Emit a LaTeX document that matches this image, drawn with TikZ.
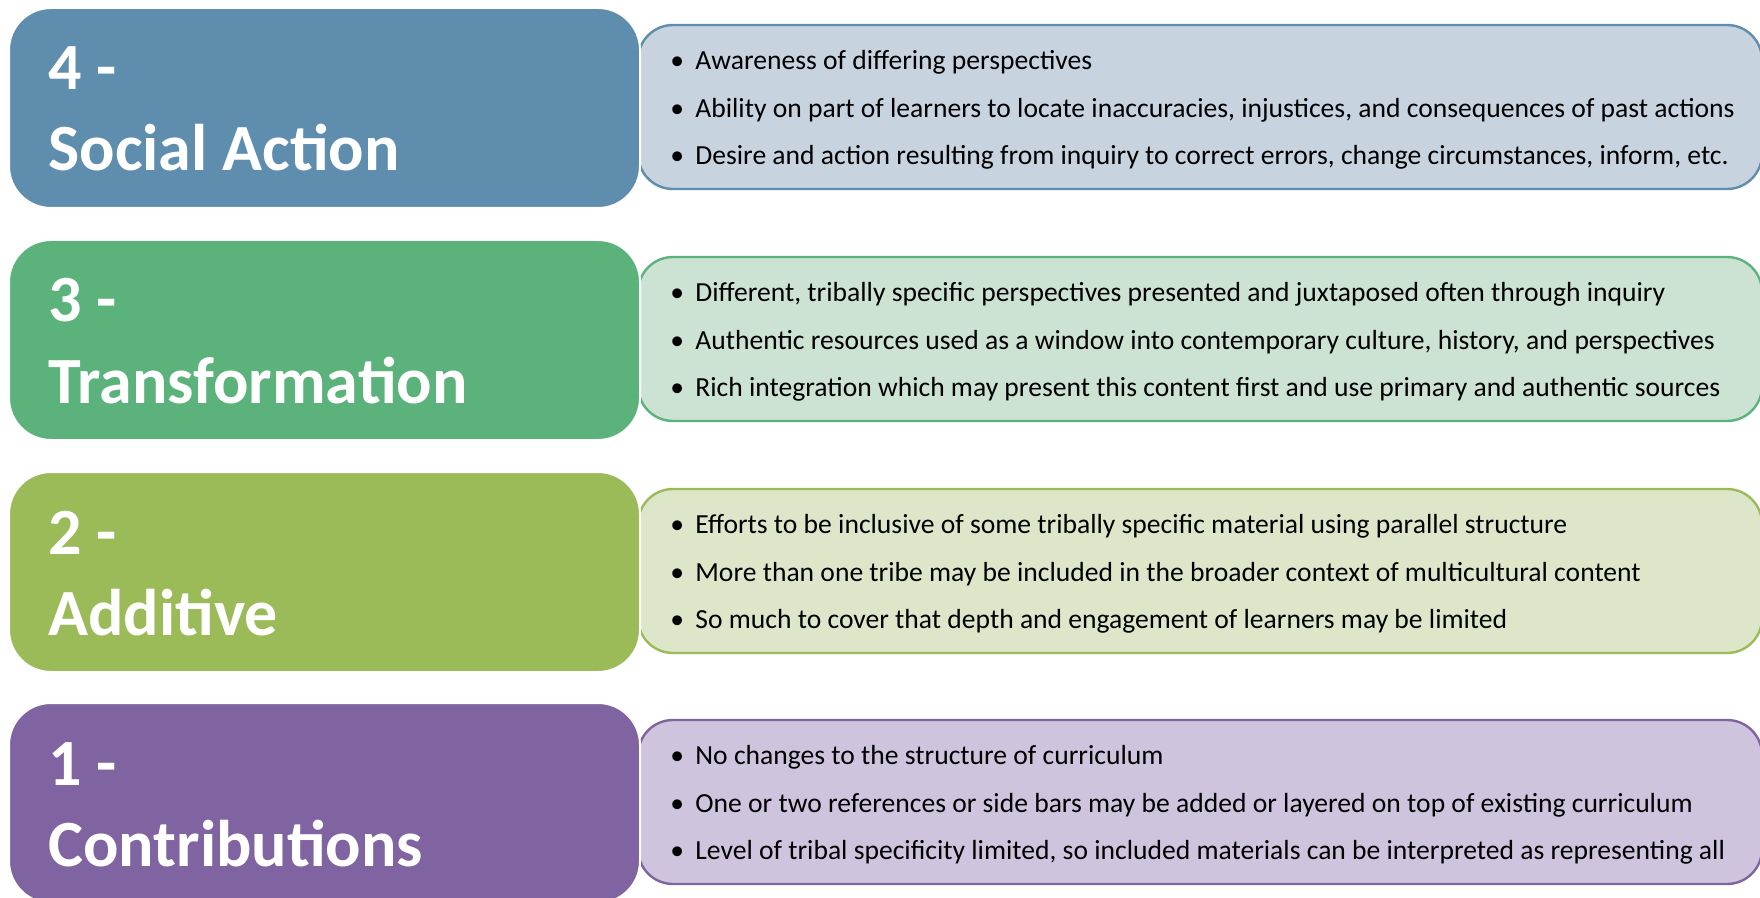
\documentclass[tikz,border=0pt]{standalone}
\usepackage{fontspec}
\setmainfont{Carlito}
\usepackage{tikz}

\definecolor{actionblue}{RGB}{95,141,173}
\definecolor{actionlight}{RGB}{200,211,224}
\definecolor{transgreen}{RGB}{91,179,123}
\definecolor{translight}{RGB}{204,226,210}
\definecolor{addolive}{RGB}{155,187,89}
\definecolor{addlight}{RGB}{222,230,202}
\definecolor{contribpurple}{RGB}{128,100,161}
\definecolor{contriblight}{RGB}{207,196,222}

\newcommand{\bul}{\makebox[12.5pt][l]{\textbullet}}

\tikzset{
  levelbox/.style={rectangle, rounded corners=21pt, draw=white, line width=1pt, minimum width=315.5pt, minimum height=100pt},
  pointbox/.style={rectangle, rounded corners=17.5pt, line width=1.2pt, minimum width=562pt, minimum height=82pt},
  leveltitle/.style={anchor=base west, inner sep=0pt, align=left, text=white, font=\fontsize{33}{40.5}\selectfont\bfseries},
  pointlist/.style={anchor=west, inner sep=0pt, align=left, font=\fontsize{13.8}{23.75}\selectfont}
}

\begin{document}
\begin{tikzpicture}[x=0.5pt,y=-0.5pt]
     \useasboundingbox (0,0) rectangle (1760,898);

     % 4 - social action
     \node[pointbox, draw=actionblue, fill=actionlight] (pts4) at (1200,107) {};
     \node[levelbox, fill=actionblue] (box4) at (324.5,108) {};
     \node[leveltitle] (ttl4) at (48,171) {4 -\\Social Action};
     \node[pointlist] (lst4) at (670,110) {\bul Awareness of differing perspectives\\
       \bul Ability on part of learners to locate inaccuracies, injustices, and consequences of past actions\\
       \bul Desire and action resulting from inquiry to correct errors, change circumstances, inform, etc.};

     % 3 - transformation
     \node[pointbox, draw=transgreen, fill=translight] (pts3) at (1200,339) {};
     \node[levelbox, fill=transgreen] (box3) at (324.5,340) {};
     \node[leveltitle] (ttl3) at (48,403) {3 -\\Transformation};
     \node[pointlist] (lst3) at (670,342) {\bul Different, tribally specific perspectives presented and juxtaposed often through inquiry\\
       \bul Authentic resources used as a window into contemporary culture, history, and perspectives\\
       \bul Rich integration which may present this content first and use primary and authentic sources};

     % 2 - additive
     \node[pointbox, draw=addolive, fill=addlight] (pts2) at (1200,571) {};
     \node[levelbox, fill=addolive] (box2) at (324.5,572) {};
     \node[leveltitle] (ttl2) at (48,635) {2 -\\Additive};
     \node[pointlist] (lst2) at (670,574) {\bul Efforts to be inclusive of some tribally specific material using parallel structure\\
       \bul More than one tribe may be included in the broader context of multicultural content\\
       \bul So much to cover that depth and engagement of learners may be limited};

     % 1 - contributions
     \node[pointbox, draw=contribpurple, fill=contriblight] (pts1) at (1200,802) {};
     \node[levelbox, fill=contribpurple] (box1) at (324.5,803) {};
     \node[leveltitle] (ttl1) at (48,866) {1 -\\Contributions};
     \node[pointlist] (lst1) at (670,805) {\bul No changes to the structure of curriculum\\
       \bul One or two references or side bars may be added or layered on top of existing curriculum\\
       \bul Level of tribal specificity limited, so included materials can be interpreted as representing all};
\end{tikzpicture}
\end{document}
